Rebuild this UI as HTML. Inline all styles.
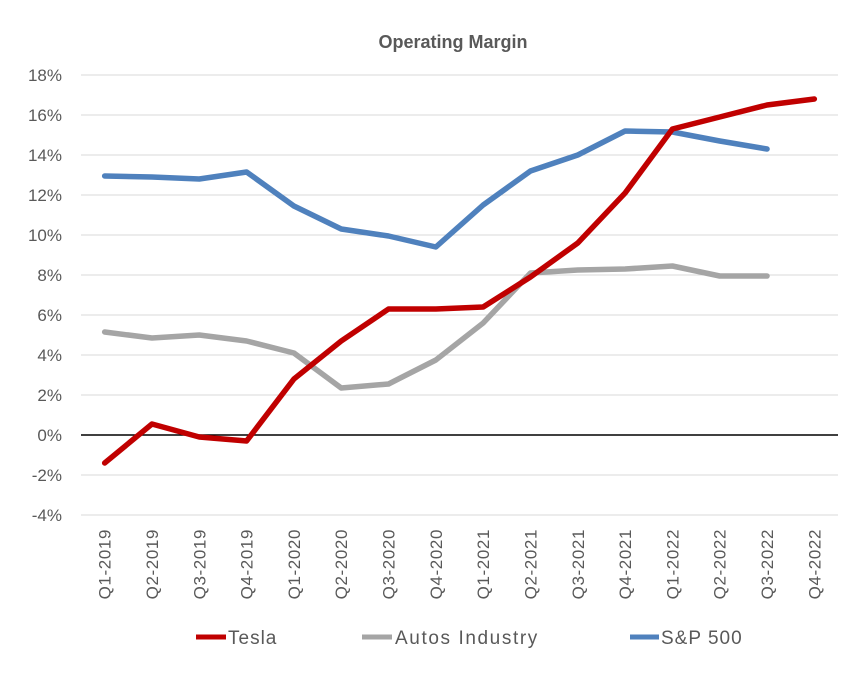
<!DOCTYPE html>
<html><head><meta charset="utf-8"><style>
body{margin:0;background:#fff;}
svg{display:block;font-family:"Liberation Sans",sans-serif;}
</style></head><body>
<svg id="chart" width="855" height="692">
<text x="453" y="48" text-anchor="middle" font-size="18" font-weight="bold" fill="#595959">Operating Margin</text>
<g id="grid"></g><g id="ylabels"></g><g id="xlabels"></g><g id="series"></g>
<g>
<g><line x1="196" y1="637" x2="226" y2="637" stroke="#C00000" stroke-width="5"/><text x="228" y="644" font-size="19" letter-spacing="1" fill="#595959">Tesla</text></g>
<g><line x1="362" y1="637" x2="392" y2="637" stroke="#A5A5A5" stroke-width="5"/><text x="395" y="644" font-size="19" letter-spacing="1.6" fill="#595959">Autos Industry</text></g>
<g><line x1="630" y1="637" x2="659" y2="637" stroke="#4F81BD" stroke-width="5"/><text x="661" y="644" font-size="19" letter-spacing="1" fill="#595959">S&amp;P 500</text></g>
</g>
</svg>
<script>
const categories=["Q1-2019","Q2-2019","Q3-2019","Q4-2019","Q1-2020","Q2-2020","Q3-2020","Q4-2020","Q1-2021","Q2-2021","Q3-2021","Q4-2021","Q1-2022","Q2-2022","Q3-2022","Q4-2022"];
const tesla=[-1.4,0.55,-0.1,-0.3,2.8,4.7,6.3,6.3,6.4,7.9,9.6,12.1,15.3,15.9,16.5,16.8];
const autos=[5.15,4.85,5.0,4.7,4.1,2.35,2.55,3.75,5.6,8.1,8.25,8.3,8.45,7.95,7.95,null];
const sp500=[12.95,12.9,12.8,13.15,11.45,10.3,9.95,9.4,11.5,13.2,14.0,15.2,15.15,14.7,14.3,null];
const yTicks=[-4,-2,0,2,4,6,8,10,12,14,16,18];
const NS="http://www.w3.org/2000/svg";
const left=81,right=838,top0=75,bot=515,yMin=-4,yMax=18;
const step=(right-left)/categories.length;
const x=i=>left+step*(i+0.5);
const y=v=>bot-(v-yMin)/(yMax-yMin)*(bot-top0);
function mk(tag,attrs,parent){const e=document.createElementNS(NS,tag);for(const k in attrs)e.setAttribute(k,attrs[k]);document.getElementById(parent).appendChild(e);return e;}
yTicks.forEach(t=>{
 const l=mk("line",{x1:left,x2:right,y1:y(t),y2:y(t),stroke:t===0?"#000":"#D9D9D9","stroke-width":t===0?1.5:1},"grid");
 
 
 const tx=mk("text",{x:62,y:y(t)+6,"text-anchor":"end","font-size":"17",fill:"#595959"},"ylabels");
 tx.textContent=t+"%";
 
 
});
categories.forEach((c,i)=>{
 const tx=mk("text",{transform:`translate(${x(i)+6},529) rotate(-90)`,"text-anchor":"end","font-size":"17","letter-spacing":"0.6",fill:"#595959"},"xlabels");
 tx.textContent=c;
 
 
});
function draw(arr,color,name){
 let d="";arr.forEach((v,i)=>{if(v===null)return;d+=(d?"L":"M")+x(i)+","+y(v);});
 const p=mk("path",{d:d,fill:"none",stroke:color,"stroke-width":5.5,"stroke-linejoin":"round","stroke-linecap":"round"},"series");
 
 
}
draw(autos,"#A5A5A5","autos-industry-line");
draw(sp500,"#4F81BD","sp500-line");
draw(tesla,"#C00000","tesla-line");
</script>
</body></html>
